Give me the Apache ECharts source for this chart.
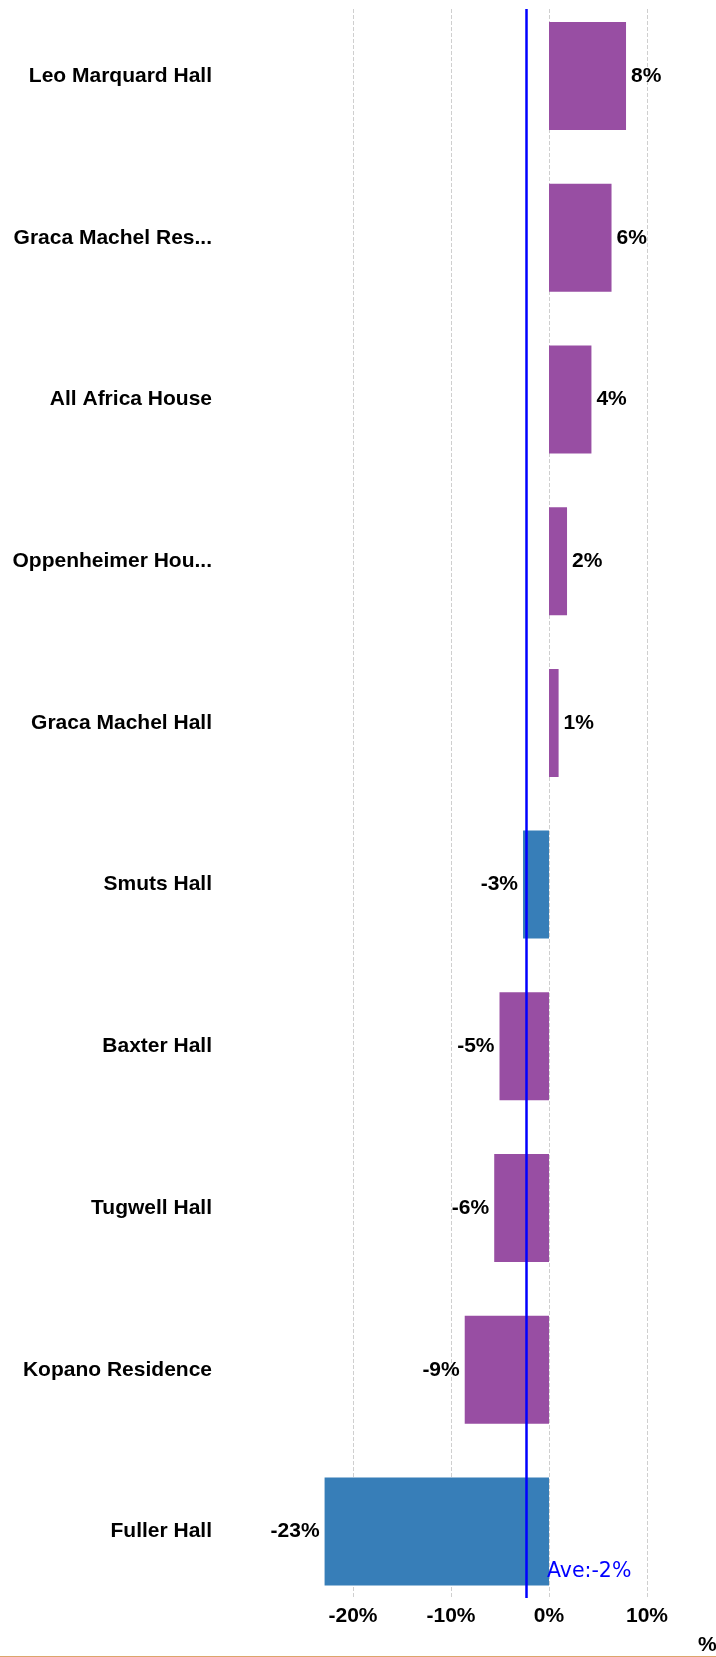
<!DOCTYPE html>
<html>
<head>
<meta charset="utf-8">
<script src="https://cdn.jsdelivr.net/npm/echarts@6/dist/echarts.min.js"></script>
<style>
  html, body { margin: 0; padding: 0; background: #fff; }
  #chart { width: 716px; height: 1656px; border-bottom: 1px solid #dca56b; }
</style>
</head>
<body>
<div id="chart"></div>
<script>
const categories = ["Leo Marquard Hall", "Graca Machel Res...", "All Africa House", "Oppenheimer Hou...", "Graca Machel Hall", "Smuts Hall", "Baxter Hall", "Tugwell Hall", "Kopano Residence", "Fuller Hall"];
const values = [7.86, 6.38, 4.33, 1.84, 0.98, -2.65, -5.05, -5.59, -8.6, -22.9];
const groups = ["A", "A", "A", "A", "A", "B", "A", "A", "A", "B"];
const groupColors = { A: "#984EA3", B: "#377EB8" };
const averageValue = -2.35;
const averageLabel = "Ave:-2%";
const xTickMin = -20, xTickMax = 10, xTickInterval = 10;

const font = '"Liberation Sans", Arial, sans-serif';

const barData = values.map((v, i) => ({
  value: v,
  itemStyle: { color: groupColors[groups[i]] },
  label: { position: v >= 0 ? 'right' : 'left' }
}));

const chart = echarts.init(document.getElementById('chart'), null, { renderer: 'canvas' });
chart.setOption({
  animation: false,
  grid: [
    { left: 304, width: 343, top: 76, height: 1455.5, containLabel: false, outerBoundsMode: 'none' },
    { left: 353, width: 294, top: 9, height: 1589, containLabel: false, outerBoundsMode: 'none' }
  ],
  xAxis: [
    { gridIndex: 0, type: 'value', min: -25, max: 10, show: false },
    {
      gridIndex: 1, type: 'value', min: xTickMin, max: xTickMax, interval: xTickInterval,
      name: '%', nameLocation: 'end', nameGap: 51,
      nameTextStyle: { fontFamily: font, fontWeight: 'bold', fontSize: 21, color: '#000', verticalAlign: 'top', padding: [37, 0, 0, 0] },
      axisLine: { show: false }, axisTick: { show: false },
      axisLabel: { fontFamily: font, fontWeight: 'bold', fontSize: 21, color: '#000', margin: 8, formatter: v => v + '%' },
      splitLine: { show: true, lineStyle: { type: 'dashed', color: '#cfcfcf', width: 1 } }
    }
  ],
  yAxis: [
    {
      gridIndex: 0, type: 'category', data: categories, inverse: true, boundaryGap: false,
      axisLine: { show: false }, axisTick: { show: false }, splitLine: { show: false },
      axisLabel: { fontFamily: font, fontWeight: 'bold', fontSize: 21, color: '#000', margin: 92 }
    },
    { gridIndex: 1, type: 'value', min: 0, max: 1, show: false }
  ],
  series: [
    {
      type: 'bar', xAxisIndex: 0, yAxisIndex: 0,
      data: barData, barWidth: 108,
      label: {
        show: true, distance: 5,
        fontFamily: font, fontWeight: 'bold', fontSize: 21, color: '#000',
        formatter: p => Math.round(p.value) + '%'
      }
    },
    {
      type: 'scatter', xAxisIndex: 1, yAxisIndex: 1, data: [],
      markLine: {
        silent: true, symbol: 'none',
        lineStyle: { color: '#0000FF', width: 2.5, type: 'solid' },
        label: {
          show: true, position: 'start', distance: [0, -16],
          align: 'left', verticalAlign: 'bottom', padding: [0, 0, 0, 21],
          fontFamily: '"DejaVu Sans", sans-serif', fontSize: 20.5, color: '#0000FF',
          formatter: averageLabel
        },
        data: [{ xAxis: averageValue }]
      }
    }
  ]
});
</script>
</body>
</html>
